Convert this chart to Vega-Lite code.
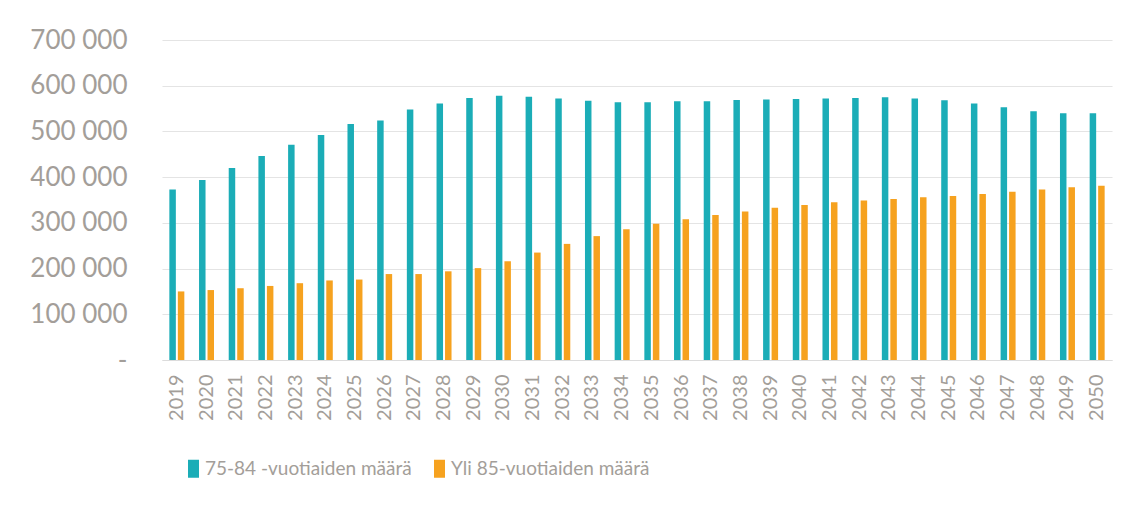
{
  "$schema": "https://vega.github.io/schema/vega-lite/v6.json",
  "width": 950,
  "height": 320,
  "autosize": {"type": "none"},
  "padding": {"left": 162, "top": 40, "right": 21, "bottom": 147},
  "background": "#ffffff",
  "config": {
    "font": "Lato",
    "view": {"stroke": null},
    "locale": {"number": {"decimal": ",", "thousands": "\u00a0", "grouping": [3], "currency": ["", " €"]}}
  },
  "datasets": {
    "rows": [
      {"year": "2019", "series": "75-84 -vuotiaiden määrä", "value": 373000},
      {"year": "2019", "series": "Yli 85-vuotiaiden määrä", "value": 150000},
      {"year": "2020", "series": "75-84 -vuotiaiden määrä", "value": 394000},
      {"year": "2020", "series": "Yli 85-vuotiaiden määrä", "value": 153000},
      {"year": "2021", "series": "75-84 -vuotiaiden määrä", "value": 420000},
      {"year": "2021", "series": "Yli 85-vuotiaiden määrä", "value": 157000},
      {"year": "2022", "series": "75-84 -vuotiaiden määrä", "value": 446000},
      {"year": "2022", "series": "Yli 85-vuotiaiden määrä", "value": 162000},
      {"year": "2023", "series": "75-84 -vuotiaiden määrä", "value": 471000},
      {"year": "2023", "series": "Yli 85-vuotiaiden määrä", "value": 168000},
      {"year": "2024", "series": "75-84 -vuotiaiden määrä", "value": 492000},
      {"year": "2024", "series": "Yli 85-vuotiaiden määrä", "value": 174000},
      {"year": "2025", "series": "75-84 -vuotiaiden määrä", "value": 516000},
      {"year": "2025", "series": "Yli 85-vuotiaiden määrä", "value": 176000},
      {"year": "2026", "series": "75-84 -vuotiaiden määrä", "value": 524000},
      {"year": "2026", "series": "Yli 85-vuotiaiden määrä", "value": 188000},
      {"year": "2027", "series": "75-84 -vuotiaiden määrä", "value": 548000},
      {"year": "2027", "series": "Yli 85-vuotiaiden määrä", "value": 188000},
      {"year": "2028", "series": "75-84 -vuotiaiden määrä", "value": 561000},
      {"year": "2028", "series": "Yli 85-vuotiaiden määrä", "value": 194000},
      {"year": "2029", "series": "75-84 -vuotiaiden määrä", "value": 573000},
      {"year": "2029", "series": "Yli 85-vuotiaiden määrä", "value": 201000},
      {"year": "2030", "series": "75-84 -vuotiaiden määrä", "value": 578000},
      {"year": "2030", "series": "Yli 85-vuotiaiden määrä", "value": 216000},
      {"year": "2031", "series": "75-84 -vuotiaiden määrä", "value": 576000},
      {"year": "2031", "series": "Yli 85-vuotiaiden määrä", "value": 235000},
      {"year": "2032", "series": "75-84 -vuotiaiden määrä", "value": 572000},
      {"year": "2032", "series": "Yli 85-vuotiaiden määrä", "value": 254000},
      {"year": "2033", "series": "75-84 -vuotiaiden määrä", "value": 567000},
      {"year": "2033", "series": "Yli 85-vuotiaiden määrä", "value": 271000},
      {"year": "2034", "series": "75-84 -vuotiaiden määrä", "value": 564000},
      {"year": "2034", "series": "Yli 85-vuotiaiden määrä", "value": 286000},
      {"year": "2035", "series": "75-84 -vuotiaiden määrä", "value": 564000},
      {"year": "2035", "series": "Yli 85-vuotiaiden määrä", "value": 298000},
      {"year": "2036", "series": "75-84 -vuotiaiden määrä", "value": 566000},
      {"year": "2036", "series": "Yli 85-vuotiaiden määrä", "value": 308000},
      {"year": "2037", "series": "75-84 -vuotiaiden määrä", "value": 566000},
      {"year": "2037", "series": "Yli 85-vuotiaiden määrä", "value": 317000},
      {"year": "2038", "series": "75-84 -vuotiaiden määrä", "value": 569000},
      {"year": "2038", "series": "Yli 85-vuotiaiden määrä", "value": 325000},
      {"year": "2039", "series": "75-84 -vuotiaiden määrä", "value": 570000},
      {"year": "2039", "series": "Yli 85-vuotiaiden määrä", "value": 333000},
      {"year": "2040", "series": "75-84 -vuotiaiden määrä", "value": 571000},
      {"year": "2040", "series": "Yli 85-vuotiaiden määrä", "value": 339000},
      {"year": "2041", "series": "75-84 -vuotiaiden määrä", "value": 572000},
      {"year": "2041", "series": "Yli 85-vuotiaiden määrä", "value": 345000},
      {"year": "2042", "series": "75-84 -vuotiaiden määrä", "value": 573000},
      {"year": "2042", "series": "Yli 85-vuotiaiden määrä", "value": 349000},
      {"year": "2043", "series": "75-84 -vuotiaiden määrä", "value": 575000},
      {"year": "2043", "series": "Yli 85-vuotiaiden määrä", "value": 352000},
      {"year": "2044", "series": "75-84 -vuotiaiden määrä", "value": 572000},
      {"year": "2044", "series": "Yli 85-vuotiaiden määrä", "value": 356000},
      {"year": "2045", "series": "75-84 -vuotiaiden määrä", "value": 568000},
      {"year": "2045", "series": "Yli 85-vuotiaiden määrä", "value": 359000},
      {"year": "2046", "series": "75-84 -vuotiaiden määrä", "value": 561000},
      {"year": "2046", "series": "Yli 85-vuotiaiden määrä", "value": 363000},
      {"year": "2047", "series": "75-84 -vuotiaiden määrä", "value": 553000},
      {"year": "2047", "series": "Yli 85-vuotiaiden määrä", "value": 368000},
      {"year": "2048", "series": "75-84 -vuotiaiden määrä", "value": 544000},
      {"year": "2048", "series": "Yli 85-vuotiaiden määrä", "value": 373000},
      {"year": "2049", "series": "75-84 -vuotiaiden määrä", "value": 540000},
      {"year": "2049", "series": "Yli 85-vuotiaiden määrä", "value": 378000},
      {"year": "2050", "series": "75-84 -vuotiaiden määrä", "value": 540000},
      {"year": "2050", "series": "Yli 85-vuotiaiden määrä", "value": 381000}
    ]
  },
  "data": {"name": "rows"},
  "mark": {"type": "bar"},
  "encoding": {
    "x": {
      "field": "year",
      "type": "nominal",
      "sort": null,
      "scale": {"paddingInner": 0.495, "paddingOuter": 0.2475},
      "axis": {
        "title": null,
        "labelAngle": -90,
        "labelFontSize": 20,
        "labelColor": "#A39E99",
        "labelPadding": 14,
        "ticks": false,
        "tickSize": 0,
        "domainColor": "#DCDCDC",
        "domainWidth": 1.2
      }
    },
    "xOffset": {
      "field": "series",
      "type": "nominal",
      "scale": {"domain": ["75-84 -vuotiaiden määrä", "Yli 85-vuotiaiden määrä"], "paddingInner": 0.235, "paddingOuter": 0}
    },
    "y": {
      "field": "value",
      "type": "quantitative",
      "scale": {"domain": [0, 700000], "nice": false},
      "axis": {
        "title": null,
        "values": [0, 100000, 200000, 300000, 400000, 500000, 600000, 700000],
        "format": ",.0f",
        "labelExpr": "datum.value === 0 ? '-\u00a0\u00a0\u00a0' : datum.label",
        "labelFontSize": 26,
        "labelColor": "#A39E99",
        "labelPadding": 35,
        "ticks": false,
        "domain": false,
        "gridColor": "#E4E4E4",
        "gridWidth": 1.2
      }
    },
    "color": {
      "field": "series",
      "type": "nominal",
      "scale": {"domain": ["75-84 -vuotiaiden määrä", "Yli 85-vuotiaiden määrä"], "range": ["#1BADB7", "#F6A21F"]},
      "legend": {
        "title": null,
        "orient": "none",
        "legendX": 22,
        "legendY": 419,
        "direction": "horizontal",
        "symbolType": "M-0.61,-1H0.61V1H-0.61Z",
        "symbolSize": 324,
        "symbolStrokeWidth": 0,
        "labelFontSize": 19,
        "labelColor": "#A39E99",
        "labelOffset": 2,
        "columnPadding": 18,
        "labelLimit": 400
      }
    }
  }
}
